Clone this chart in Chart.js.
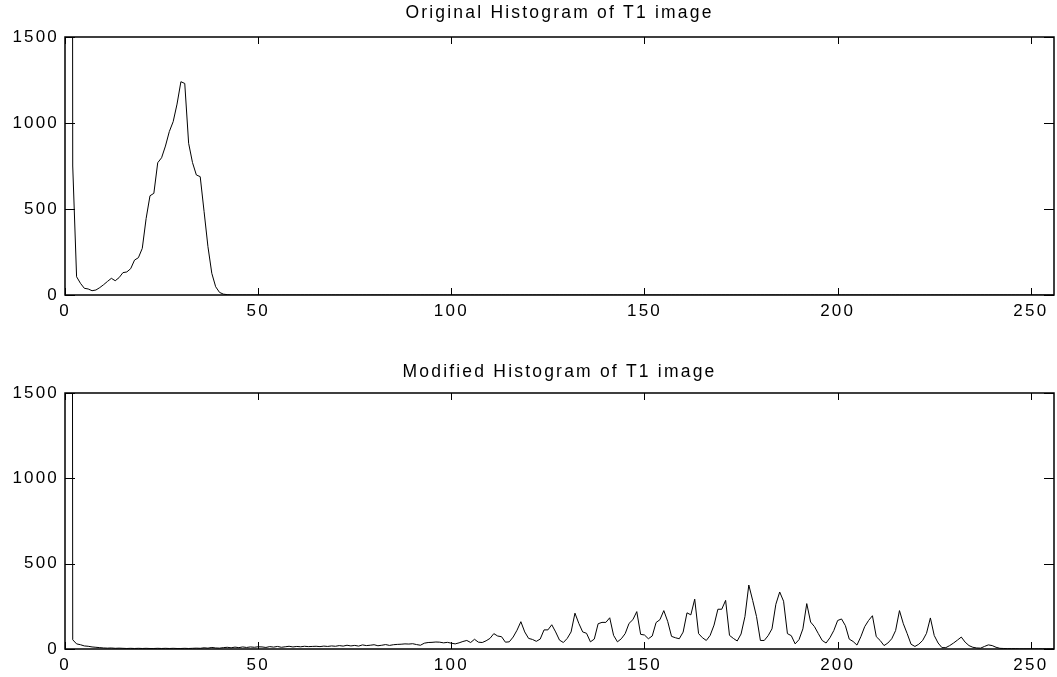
<!DOCTYPE html>
<html>
<head>
<meta charset="utf-8">
<title>T1 histograms</title>
<script src="https://cdn.jsdelivr.net/npm/chart.js@4"></script>
<style>
  body { margin: 0; background: #fff; }
  #wrap { position: relative; width: 1057px; height: 677px; }
  canvas { position: absolute; left: 0; }
</style>
</head>
<body>
<div id="wrap">
  <canvas id="histTop" width="1057" height="338" style="top:0"></canvas>
  <canvas id="histBottom" width="1057" height="339" style="top:338px"></canvas>
</div>
<script>
// intensity histogram, bins 1..256
const titles = ['Original Histogram of T1 image', 'Modified Histogram of T1 image'];
const xTicks = [0, 50, 100, 150, 200, 250];
const yTicks = [0, 500, 1000, 1500];

const originalCounts = [
  25000, 750, 106, 68, 39, 35, 25, 29, 43, 60, 79, 97, 83, 101, 130, 134, 153, 203, 217, 271,
  445, 577, 591, 769, 798, 866, 950, 1008, 1110, 1240, 1230, 882, 770, 698, 688, 485, 281, 126, 48, 15,
  5, 2, 0, 0, 0, 0, 0, 0, 0, 0, 0, 0, 0, 0, 0, 0, 0, 0, 0, 0,
  0, 0, 0, 0, 0, 0, 0, 0, 0, 0, 0, 0, 0, 0, 0, 0, 0, 0, 0, 0,
  0, 0, 0, 0, 0, 0, 0, 0, 0, 0, 0, 0, 0, 0, 0, 0, 0, 0, 0, 0,
  0, 0, 0, 0, 0, 0, 0, 0, 0, 0, 0, 0, 0, 0, 0, 0, 0, 0, 0, 0,
  0, 0, 0, 0, 0, 0, 0, 0, 0, 0, 0, 0, 0, 0, 0, 0, 0, 0, 0, 0,
  0, 0, 0, 0, 0, 0, 0, 0, 0, 0, 0, 0, 0, 0, 0, 0, 0, 0, 0, 0,
  0, 0, 0, 0, 0, 0, 0, 0, 0, 0, 0, 0, 0, 0, 0, 0, 0, 0, 0, 0,
  0, 0, 0, 0, 0, 0, 0, 0, 0, 0, 0, 0, 0, 0, 0, 0, 0, 0, 0, 0,
  0, 0, 0, 0, 0, 0, 0, 0, 0, 0, 0, 0, 0, 0, 0, 0, 0, 0, 0, 0,
  0, 0, 0, 0, 0, 0, 0, 0, 0, 0, 0, 0, 0, 0, 0, 0, 0, 0, 0, 0,
  0, 0, 0, 0, 0, 0, 0, 0, 0, 0, 0, 0, 0, 0, 0, 0
];

const modifiedCounts = [
  25000, 54, 30, 25, 18, 16, 12, 10, 8, 6, 5, 6, 4, 5, 4, 3, 4, 3, 4, 3,
  4, 3, 3, 4, 3, 4, 3, 4, 3, 3, 4, 3, 4, 5, 4, 7, 5, 9, 6, 5,
  8, 10, 7, 11, 8, 12, 9, 12, 10, 13, 12, 9, 14, 11, 15, 10, 13, 16, 12, 15,
  13, 16, 14, 15, 16, 14, 17, 15, 18, 16, 20, 17, 22, 18, 21, 17, 24, 20, 22, 25,
  19, 22, 26, 21, 25, 27, 28, 30, 29, 31, 26, 22, 34, 38, 39, 41, 40, 36, 39, 34,
  30, 36, 44, 50, 38, 57, 40, 38, 48, 62, 90, 76, 72, 40, 42, 70, 110, 160, 100, 62,
  56, 45, 58, 112, 112, 142, 100, 52, 38, 62, 100, 210, 150, 100, 92, 42, 58, 148, 156, 156,
  183, 80, 42, 60, 90, 150, 172, 219, 86, 82, 60, 76, 155, 172, 225, 162, 74, 66, 60, 99,
  212, 200, 292, 90, 66, 50, 80, 140, 233, 233, 285, 80, 62, 47, 88, 190, 375, 285, 190, 50,
  50, 78, 118, 262, 334, 280, 90, 78, 30, 55, 118, 266, 158, 131, 90, 50, 35, 66, 108, 167,
  176, 137, 58, 44, 23, 72, 131, 167, 195, 72, 50, 20, 35, 60, 108, 225, 148, 90, 28, 15,
  28, 50, 92, 182, 79, 35, 8, 8, 20, 35, 52, 70, 40, 20, 10, 6, 5, 15, 24, 20,
  10, 4, 3, 2, 2, 2, 1, 1, 1, 1, 1, 1, 1, 1, 1, 1
];

const FONT = { family: "'Liberation Sans', Arial, sans-serif", size: 17 };
const TITLE_FONT = { family: "'Liberation Sans', Arial, sans-serif", size: 17.5, weight: 'normal' };

// box around the axes with inward tick marks on all four sides
const matlabBox = {
  id: 'matlabBox',
  beforeDraw(chart) {
    chart.ctx.letterSpacing = '2.2px';
  },
  afterDatasetsDraw(chart) {
    const { ctx, chartArea: a, scales } = chart;
    ctx.save();
    ctx.strokeStyle = '#000';
    ctx.lineWidth = 1;
    ctx.beginPath();
    scales.x.ticks.forEach(t => {
      const px = Math.round(scales.x.getPixelForValue(t.value)) + 0.5;
      ctx.moveTo(px, a.bottom); ctx.lineTo(px, a.bottom - 7);
      ctx.moveTo(px, a.top); ctx.lineTo(px, a.top + 7);
    });
    scales.y.ticks.forEach(t => {
      const py = Math.round(scales.y.getPixelForValue(t.value)) + 0.5;
      ctx.moveTo(a.left, py); ctx.lineTo(a.left + 10, py);
      ctx.moveTo(a.right, py); ctx.lineTo(a.right - 10, py);
    });
    ctx.stroke();
    ctx.lineWidth = 1.5;
    ctx.strokeRect(a.left, a.top, a.right - a.left, a.bottom - a.top);
    ctx.restore();
  }
};

function makeHist(canvasId, title, counts, titleTop, titleBottom, axisHeight) {
  const points = counts.map((c, i) => ({ x: i + 1, y: c }));
  return new Chart(document.getElementById(canvasId), {
    type: 'line',
    data: {
      datasets: [{
        data: points,
        borderColor: '#000',
        borderWidth: 1,
        pointRadius: 0,
        tension: 0,
        fill: false
      }]
    },
    options: {
      responsive: false,
      animation: false,
      devicePixelRatio: 1,
      layout: { padding: { left: 0, right: 3, top: 0, bottom: 0 } },
      plugins: {
        legend: { display: false },
        tooltip: { enabled: false },
        title: {
          display: true,
          fullSize: false,
          text: title,
          color: '#000',
          font: TITLE_FONT,
          padding: { top: titleTop, bottom: titleBottom }
        }
      },
      scales: {
        x: {
          type: 'linear',
          min: 0,
          max: 256,
          grid: { display: false, drawTicks: false },
          border: { display: false },
          ticks: { color: '#000', font: FONT, padding: 6, maxRotation: 0, callback: v => String(v) },
          afterBuildTicks: s => { s.ticks = xTicks.map(v => ({ value: v })); },
          afterFit: s => { s.height = axisHeight; }
        },
        y: {
          min: 0,
          max: 1500,
          grid: { display: false, drawTicks: false },
          border: { display: false },
          ticks: { color: '#000', font: FONT, padding: 6, callback: v => String(v) },
          afterBuildTicks: s => { s.ticks = yTicks.map(v => ({ value: v })); },
          afterFit: s => { s.width = 65; }
        }
      }
    },
    plugins: [matlabBox]
  });
}

makeHist('histTop', titles[0], originalCounts, 2.5, 13.5, 43);
makeHist('histBottom', titles[1], modifiedCounts, 23.5, 10.5, 28);
</script>
</body>
</html>
